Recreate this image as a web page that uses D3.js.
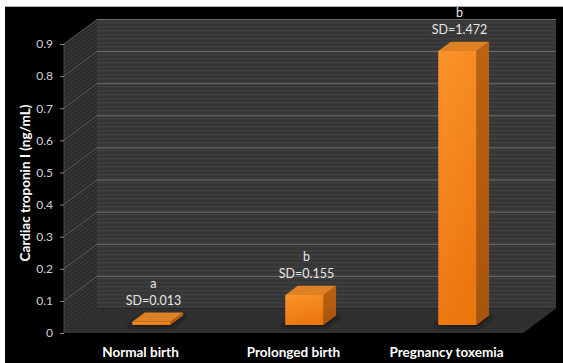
<!DOCTYPE html>
<html>
<head>
<meta charset="utf-8">
<script src="https://cdn.jsdelivr.net/npm/d3@7"></script>
<style>
  html, body { margin: 0; padding: 0; background: #ffffff; }
  svg { display: block; }
  text { font-family: Lato, "Open Sans", "DejaVu Sans", sans-serif; }
</style>
</head>
<body>
<svg id="chart" width="563" height="363"></svg>
<script>
// Cardiac troponin I by birth group
const categories = ["Normal birth", "Prolonged birth", "Pregnancy toxemia"];
const values = [0.01, 0.093, 0.853];
const groupLetters = ["a", "b", "b"];
const sdLabels = ["SD=0.013", "SD=0.155", "SD=1.472"];
const yTicks = [0, 0.1, 0.2, 0.3, 0.4, 0.5, 0.6, 0.7, 0.8, 0.9];
const yTitle = "Cardiac troponin I (ng/mL)";

const W = 563, H = 363;
const svg = d3.select("#chart");

// oblique depth of the 3-D box
const DX = 33, DY = 24.5;
const proj = (x, y, z) => [x + DX * z, y - DY * z];

const y = d3.scaleLinear().domain([0, 0.9]).range([333, 44]);
const x = d3.scaleBand().domain(categories).range([64, 523]);
const barW = x.bandwidth() * 0.25;
const zFront = 0.33, zBack = 0.71;

const defs = svg.append("defs");

// faint horizontal banding on the back wall
const pat = defs.append("pattern").attr("id", "wallStripes")
  .attr("patternUnits", "userSpaceOnUse").attr("width", 8).attr("height", 4);
pat.append("rect").attr("width", 8).attr("height", 4).attr("fill", "#363636");
pat.append("rect").attr("y", 2).attr("width", 8).attr("height", 1.3).attr("fill", "#3f3f3f");

const gFront = defs.append("linearGradient").attr("id", "barFront")
  .attr("x1", 0).attr("y1", 0).attr("x2", 0.3).attr("y2", 1);
gFront.append("stop").attr("offset", 0).attr("stop-color", "#fa9429");
gFront.append("stop").attr("offset", 1).attr("stop-color", "#ec770f");

const gSide = defs.append("linearGradient").attr("id", "barSide")
  .attr("x1", 0).attr("y1", 0).attr("x2", 0).attr("y2", 1);
gSide.append("stop").attr("offset", 0).attr("stop-color", "#bc6211");
gSide.append("stop").attr("offset", 1).attr("stop-color", "#a8550b");

defs.append("filter").attr("id", "soft").attr("x", "-50%").attr("y", "-50%")
  .attr("width", "200%").attr("height", "200%")
  .append("feGaussianBlur").attr("stdDeviation", 2.2);

const clipSide = defs.append("clipPath").attr("id", "sideClip");

// page frame
svg.append("rect").attr("width", W).attr("height", H).attr("fill", "#ffffff");
svg.append("line").attr("x1", 5).attr("x2", W).attr("y1", 6.5).attr("y2", 6.5)
  .attr("stroke", "#b0b0b0").attr("stroke-width", 1);
svg.append("rect").attr("x", 5).attr("y", 7).attr("width", W - 5).attr("height", H - 7)
  .attr("fill", "#000000");

const x0 = x.range()[0], x1 = x.range()[1];
const yTop = y(0.9), yBase = y(0);
const poly = pts => pts.map(p => p.join(",")).join(" ");

// back wall
const bwTL = proj(x0, yTop, 1), bwBR = proj(x1, yBase, 1);
svg.append("rect").attr("x", bwTL[0]).attr("y", bwTL[1])
  .attr("width", bwBR[0] - bwTL[0]).attr("height", bwBR[1] - bwTL[1])
  .attr("fill", "url(#wallStripes)");

// side wall
const sidePts = [[x0, yBase], [x0, yTop], proj(x0, yTop, 1), proj(x0, yBase, 1)];
clipSide.append("polygon").attr("points", poly(sidePts));
svg.append("polygon").attr("points", poly(sidePts)).attr("fill", "#2c2c2c");
const sideG = svg.append("g").attr("clip-path", "url(#sideClip)");
sideG.selectAll("line.hatch")
  .data(d3.range(yTop - 4, yBase + DY + 4, 4))
  .join("line")
  .attr("x1", x0).attr("y1", d => d)
  .attr("x2", x0 + DX).attr("y2", d => d - DY)
  .attr("stroke", "#3d3d3d").attr("stroke-width", 1);

// floor
svg.append("polygon")
  .attr("points", poly([[x0, yBase], [x1, yBase], proj(x1, yBase, 1), proj(x0, yBase, 1)]))
  .attr("fill", "#303030");

// gridlines on back and side walls
const gridTicks = yTicks.filter(t => t > 0);
svg.selectAll("line.gridBack").data(gridTicks).join("line")
  .attr("x1", proj(x0, 0, 1)[0]).attr("x2", proj(x1, 0, 1)[0])
  .attr("y1", d => proj(0, y(d), 1)[1]).attr("y2", d => proj(0, y(d), 1)[1])
  .attr("stroke", "#6e6e6e").attr("stroke-width", 1);
svg.selectAll("line.gridSide").data(gridTicks).join("line")
  .attr("x1", x0).attr("y1", d => y(d))
  .attr("x2", x0 + DX).attr("y2", d => y(d) - DY)
  .attr("stroke", "#555555").attr("stroke-width", 1);

// axis line and ticks
svg.append("line").attr("x1", x0).attr("x2", x0).attr("y1", yTop).attr("y2", yBase)
  .attr("stroke", "#4a4a4a");
const axis = d3.axisLeft(y).tickValues(yTicks).tickSize(4).tickPadding(7)
  .tickFormat(d3.format("~g"));
const axG = svg.append("g").attr("transform", `translate(${x0},0)`).call(axis);
axG.select(".domain").remove();
axG.selectAll(".tick line").attr("stroke", "#8a8a8a");
axG.selectAll(".tick text").attr("fill", "#d4d4d4").style("font-size", "12px")
  .style("font-family", "Lato, 'Open Sans', sans-serif");

// bars
const bars = categories.map((c, i) => {
  const left = x(c) + (x.bandwidth() - barW) / 2;
  return { c, v: values[i], i, left, right: left + barW };
});

// soft floor shadows
svg.selectAll("polygon.shadow").data(bars).join("polygon")
  .attr("points", d => poly([
    proj(d.left - 5, yBase + 2, zFront), proj(d.right + 2, yBase + 2, zFront),
    proj(d.right + 4, yBase, zBack), proj(d.left - 2, yBase, zBack)]))
  .attr("fill", "#141414").attr("opacity", 0.85).attr("filter", "url(#soft)");

const bg = svg.selectAll("g.bar").data(bars).join("g");
// right side face
bg.append("polygon").attr("points", d => poly([
  proj(d.right, y(0), zFront), proj(d.right, y(d.v), zFront),
  proj(d.right, y(d.v), zBack), proj(d.right, y(0), zBack)]))
  .attr("fill", "url(#barSide)");
// front face
bg.append("polygon").attr("points", d => poly([
  proj(d.left, y(0), zFront), proj(d.left, y(d.v), zFront),
  proj(d.right, y(d.v), zFront), proj(d.right, y(0), zFront)]))
  .attr("fill", "url(#barFront)");
// top face
bg.append("polygon").attr("points", d => poly([
  proj(d.left, y(d.v), zFront), proj(d.right, y(d.v), zFront),
  proj(d.right, y(d.v), zBack), proj(d.left, y(d.v), zBack)]))
  .attr("fill", "#de8024");

// group letter and SD labels above each bar
const lab = svg.selectAll("g.lab").data(bars).join("g")
  .attr("transform", d => {
    const p = proj((d.left + d.right) / 2 + 2, y(d.v), zFront);
    return `translate(${p[0]},${p[1] - 21})`;
  });
lab.append("text").attr("text-anchor", "middle").attr("dy", "0.35em")
  .attr("fill", "#e6e6e6").style("font-size", "12.5px")
  .text(d => sdLabels[d.i]);
lab.append("text").attr("text-anchor", "middle").attr("y", -17).attr("dy", "0.35em")
  .attr("fill", "#e6e6e6").style("font-size", "12.5px")
  .text(d => groupLetters[d.i]);

// category labels
svg.selectAll("text.cat").data(categories).join("text")
  .attr("x", d => x(d) + x.bandwidth() / 2).attr("y", 352).attr("dy", "0.35em")
  .attr("text-anchor", "middle").attr("fill", "#ffffff")
  .style("font-size", "13.5px").style("font-weight", "bold")
  .text(d => d);

// y-axis title
svg.append("text")
  .attr("transform", "translate(25,183) rotate(-90)")
  .attr("text-anchor", "middle").attr("dy", "0.35em")
  .attr("fill", "#ffffff").style("font-size", "13.5px").style("font-weight", "bold")
  .text(yTitle);
</script>
</body>
</html>
